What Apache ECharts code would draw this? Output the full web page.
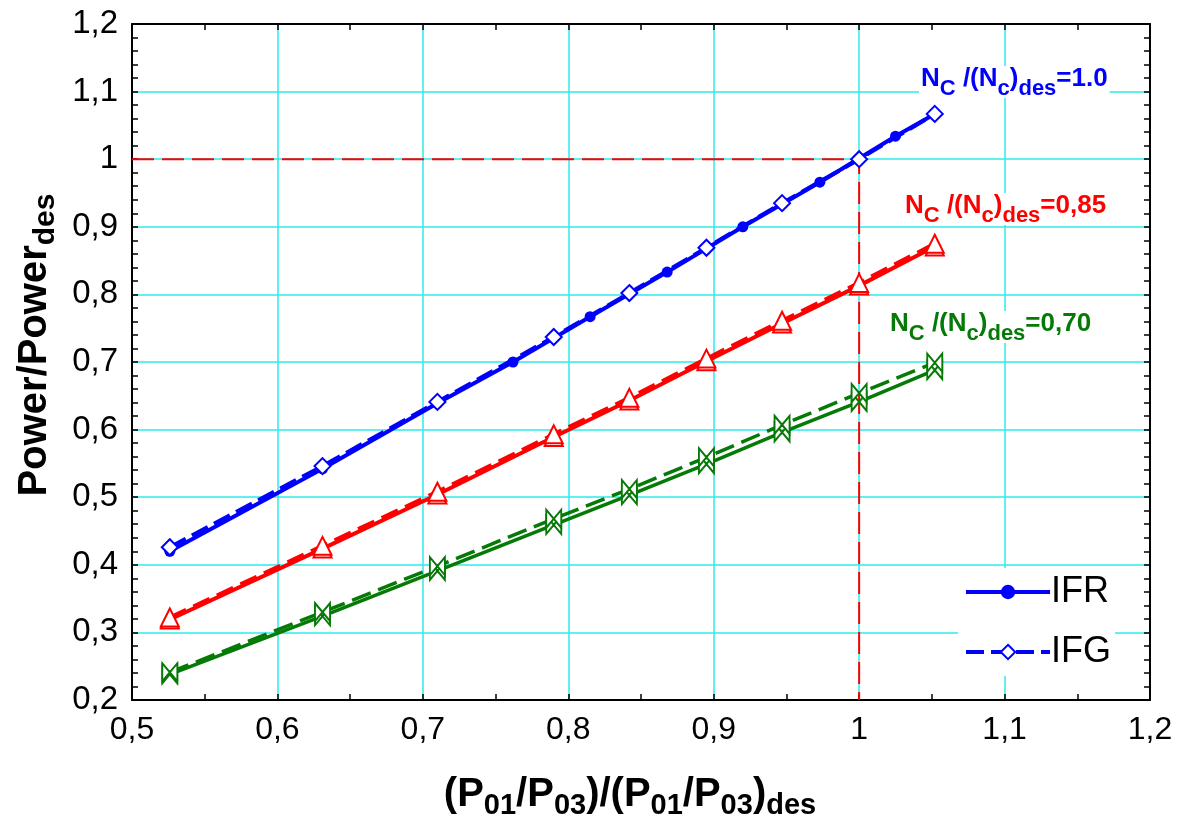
<!DOCTYPE html>
<html>
<head>
<meta charset="utf-8">
<script src="https://cdn.jsdelivr.net/npm/echarts@6/dist/echarts.min.js"></script>
<style>
  html, body { margin: 0; padding: 0; background: #fff; }
  #chart { width: 1183px; height: 825px; }
</style>
</head>
<body>
<div id="chart"></div>
<script>
// Pressure-ratio grid shared by the IFG runs and the lower-speed IFR runs
const xGrid = [0.526, 0.631, 0.710, 0.790, 0.842, 0.895, 0.947, 1.000, 1.052];
// IFR points at design speed
const xIFR100 = [0.526, 0.631, 0.710, 0.762, 0.815, 0.868, 0.920, 0.973, 1.025, 1.052];
const yIFR100 = [0.420, 0.542, 0.639, 0.700, 0.767, 0.833, 0.900, 0.966, 1.034, 1.067];
const yIFG100 = [0.426, 0.546, 0.641, 0.737, 0.802, 0.869, 0.935, 1.000, 1.067];
// 85 % speed
const yIFR085 = [0.319, 0.424, 0.504, 0.589, 0.643, 0.701, 0.757, 0.813, 0.871];
const yIFG085 = [0.322, 0.428, 0.508, 0.593, 0.647, 0.705, 0.761, 0.817, 0.875];
// 70 % speed
const yIFR070 = [0.238, 0.324, 0.391, 0.459, 0.503, 0.549, 0.596, 0.641, 0.688];
const yIFG070 = [0.241, 0.330, 0.398, 0.468, 0.512, 0.559, 0.607, 0.654, 0.699];
// Design point guide
const designX = [0.5, 1.0, 1.0];
const designY = [1.0, 1.0, 0.2];

const xTickLabels = ['0,5', '0,6', '0,7', '0,8', '0,9', '1', '1,1', '1,2'];
const yTickLabels = ['0,2', '0,3', '0,4', '0,5', '0,6', '0,7', '0,8', '0,9', '1', '1,1', '1,2'];

const BLUE = '#0000ff', RED = '#ff0000', GREEN = '#067a06', GRID = '#2eeaea';
const FONT = '"Liberation Sans", Arial, sans-serif';
const BOWTIE = 'path://M0,0 L10,12 L10,0 L0,12 Z';

const pair = (xs, ys) => xs.map((x, i) => [x, ys[i]]);
const tickIndex = (v, min) => Math.round((v - min) * 10);

// zrender rich text styles for the speed-line captions
const subRich = (color, main, sub, pad) => ({
  m: { fontSize: main, fontWeight: 'bold', fill: color, fontFamily: FONT, lineHeight: main + 6, verticalAlign: 'top' },
  s: { fontSize: sub, fontWeight: 'bold', fill: color, fontFamily: FONT, lineHeight: sub + 2, verticalAlign: 'top', padding: [pad, 0, 0, 0] }
});

function curveLabel(left, top, color, value) {
  return {
    type: 'text', left, top, z: 50,
    style: {
      text: '{m|N}{s|C}{m| /(N}{s|c}{m|)}{s|des}{m|=' + value + '}',
      fill: color,
      rich: subRich(color, 26, 22, 12),
      backgroundColor: '#fff',
      padding: [0, 2, 0, 2]
    }
  };
}

const chart = echarts.init(document.getElementById('chart'), null, { renderer: 'canvas' });

const valueAxisCommon = {
  type: 'value',
  interval: 0.1,
  axisLine: { show: true, onZero: false, lineStyle: { color: '#000', width: 2 } },
  axisTick: { show: true, inside: true, length: 6, lineStyle: { color: '#000', width: 1.5 } },
  minorTick: { show: true, length: 6, lineStyle: { color: '#000', width: 1.5 } },
  splitLine: { show: false },
  minorSplitLine: { show: false }
};

const option = {
  backgroundColor: '#fff',
  animation: false,
  grid: { left: 132, top: 24, right: 33, bottom: 125, containLabel: false },
  xAxis: [
    Object.assign({}, valueAxisCommon, {
      min: 0.5, max: 1.2, position: 'bottom',
      minorTick: Object.assign({}, valueAxisCommon.minorTick, { splitNumber: 2 }),
      splitLine: { show: true, lineStyle: { color: GRID, width: 1.5 } },
      axisLabel: {
        color: '#000', fontSize: 32, fontFamily: FONT, margin: 14,
        formatter: v => xTickLabels[tickIndex(v, 0.5)]
      },
      name: '(P{s|01}/P{s|03})/(P{s|01}/P{s|03}){s|des}',
      nameLocation: 'middle', nameGap: 72,
      nameTextStyle: {
        color: '#000', fontSize: 40, fontWeight: 'bold', fontFamily: FONT,
        lineHeight: 46, verticalAlign: 'top', padding: [0, 22, 0, 0],
        rich: {
          s: { fontSize: 29, fontWeight: 'bold', fontFamily: FONT, color: '#000', lineHeight: 31, verticalAlign: 'top', padding: [19, 0, 0, 0] }
        }
      }
    }),
    Object.assign({}, valueAxisCommon, {
      min: 0.5, max: 1.2, position: 'top',
      minorTick: Object.assign({}, valueAxisCommon.minorTick, { splitNumber: 2 }),
      axisLabel: { show: false }
    })
  ],
  yAxis: [
    Object.assign({}, valueAxisCommon, {
      min: 0.2, max: 1.2, position: 'left',
      minorTick: Object.assign({}, valueAxisCommon.minorTick, { splitNumber: 5 }),
      splitLine: { show: true, lineStyle: { color: GRID, width: 1.5 } },
      axisLabel: {
        color: '#000', fontSize: 33, fontFamily: FONT, margin: 14,
        formatter: v => yTickLabels[tickIndex(v, 0.2)]
      },
      name: 'Power/Power{s|des}',
      nameLocation: 'middle', nameGap: 86, nameRotate: 90,
      nameTextStyle: {
        color: '#000', fontSize: 40, fontWeight: 'bold', fontFamily: FONT,
        lineHeight: 46, verticalAlign: 'top', padding: [0, 0, 0, 34],
        rich: {
          s: { fontSize: 30, fontWeight: 'bold', fontFamily: FONT, color: '#000', lineHeight: 32, verticalAlign: 'top', padding: [19, 0, 0, 0] }
        }
      }
    }),
    Object.assign({}, valueAxisCommon, {
      min: 0.2, max: 1.2, position: 'right',
      minorTick: Object.assign({}, valueAxisCommon.minorTick, { splitNumber: 5 }),
      axisLabel: { show: false }
    })
  ],
  legend: {
    data: ['IFR', 'IFG'],
    orient: 'vertical',
    left: 958, top: 568,
    itemWidth: 84, itemHeight: 18, itemGap: 24,
    backgroundColor: '#fff',
    padding: [6, 4, 6, 6],
    lineStyle: { width: 4 },
    textStyle: { color: '#000', fontSize: 36, fontFamily: FONT, padding: [0, 0, 0, -4] }
  },
  graphic: [
    curveLabel(919, 66, BLUE, '1.0'),
    curveLabel(903, 193, RED, '0,85'),
    curveLabel(888, 311, GREEN, '0,70')
  ],
  series: [
    {
      name: 'design', type: 'line', z: 1,
      data: pair(designX, designY), symbol: 'none',
      lineStyle: { color: RED, width: 2, type: [22, 8] },
      silent: true
    },
    // 70 %
    {
      name: 'IFR 0,70', type: 'line', z: 3, data: pair(xGrid, yIFR070),
      symbol: BOWTIE, symbolSize: [15, 18],
      lineStyle: { color: GREEN, width: 3.5 },
      itemStyle: { color: '#fff', borderColor: GREEN, borderWidth: 2 }
    },
    {
      name: 'IFG 0,70', type: 'line', z: 3, data: pair(xGrid, yIFG070),
      symbol: BOWTIE, symbolSize: [15, 18],
      lineStyle: { color: GREEN, width: 3.5, type: [20, 8] },
      itemStyle: { color: '#fff', borderColor: GREEN, borderWidth: 2 }
    },
    // 85 %
    {
      name: 'IFR 0,85', type: 'line', z: 3, data: pair(xGrid, yIFR085),
      symbol: 'emptyTriangle', symbolSize: 18,
      lineStyle: { color: RED, width: 4 },
      itemStyle: { color: RED, borderWidth: 2 }
    },
    {
      name: 'IFG 0,85', type: 'line', z: 3, data: pair(xGrid, yIFG085),
      symbol: 'emptyTriangle', symbolSize: 18,
      lineStyle: { color: RED, width: 4, type: [18, 8] },
      itemStyle: { color: RED, borderWidth: 2 }
    },
    // design speed
    {
      name: 'IFR', type: 'line', z: 4, data: pair(xIFR100, yIFR100),
      symbol: 'circle', symbolSize: 11,
      lineStyle: { color: BLUE, width: 4 },
      itemStyle: { color: BLUE }
    },
    {
      name: 'IFG', type: 'line', z: 5, data: pair(xGrid, yIFG100),
      symbol: 'emptyDiamond', symbolSize: 16,
      lineStyle: { color: BLUE, width: 4, type: [18, 7] },
      itemStyle: { color: BLUE, borderWidth: 2 }
    }
  ]
};

chart.setOption(option);
</script>
</body>
</html>
